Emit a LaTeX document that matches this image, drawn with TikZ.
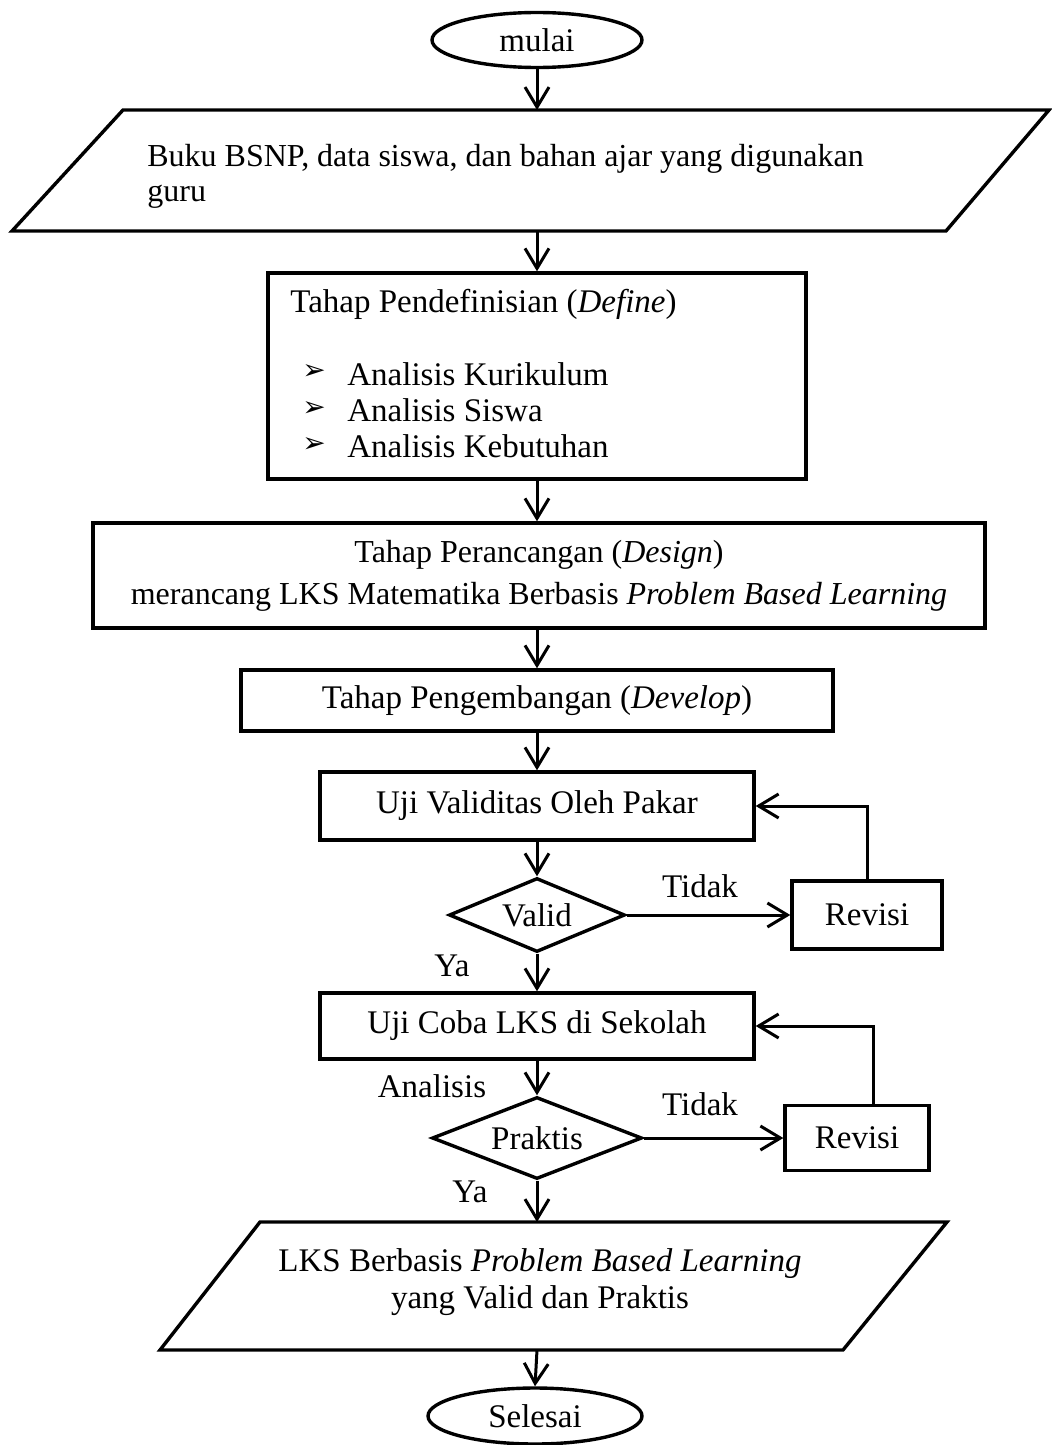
\documentclass[tikz,border=0pt]{standalone}
\usepackage{fontspec}
\setmainfont{Liberation Serif}
\newfontfamily\symfont{DejaVu Sans}
\usetikzlibrary{arrows.meta,shapes.geometric,calc}
\begin{document}
\begin{tikzpicture}[x=0.5pt,y=-0.5pt,
  every node/.style={font=\fontsize{16.5}{19}\selectfont},
  ln/.style={line width=1.7pt, line join=miter},
  box/.style={draw,ln,rectangle,inner sep=0pt,align=center},
  term/.style={draw,ln,ellipse,inner sep=0pt},
  dec/.style={draw,ln,diamond,inner sep=0pt,aspect=2.5},
  arr/.style={line width=1.5pt,-{Straight Barb[length=10pt,width=12pt,line width=1.5pt]}},
  lbl/.style={inner sep=0pt},
  bul/.style={inner sep=0pt,anchor=west,font=\symfont\fontsize{14}{16}\selectfont},
]
\useasboundingbox (0,0) rectangle (1051,1445);

% start
\node[term,minimum width=105pt,minimum height=27.5pt] (start) at (537,40) {mulai};

% input parallelogram
\coordinate (p1a) at (123,110);
\coordinate (p1b) at (1049,110);
\coordinate (p1c) at (946,231);
\coordinate (p1d) at (12,231);
\draw[ln] (p1a)--(p1b)--(p1c)--(p1d)--cycle;
\coordinate (p1top) at (537,110);
\coordinate (p1bot) at (537,231);
\node[lbl,anchor=west,align=left,font=\fontsize{16}{17.5}\selectfont] (in1) at (147,176)
  {Buku BSNP, data siswa, dan bahan ajar yang digunakan\\guru};

% define
\node[box,minimum width=269pt,minimum height=103pt] (def) at (537,376) {};
\node[lbl,anchor=west] (defT) at (290,304) {Tahap Pendefinisian (\textit{Define})};
\node[bul] (b1) at (302,372) {➢};
\node[bul] (b2) at (302,409) {➢};
\node[bul] (b3) at (302,445) {➢};
\node[lbl,anchor=west] (t1) at (347,374) {Analisis Kurikulum};
\node[lbl,anchor=west] (t2) at (347,410) {Analisis Siswa};
\node[lbl,anchor=west] (t3) at (347,446) {Analisis Kebutuhan};

% design
\node[box,minimum width=446pt,minimum height=52.5pt,font=\fontsize{16}{21}\selectfont] (des) at (539,575.5)
  {Tahap Perancangan (\textit{Design})\\merancang LKS Matematika Berbasis \textit{Problem Based Learning}};

% develop
\node[box,minimum width=296pt,minimum height=30.5pt] (dev) at (537,700.5) {Tahap Pengembangan (\textit{Develop})};

% validity
\node[box,minimum width=217pt,minimum height=34pt] (uv) at (537,806) {Uji Validitas Oleh Pakar};
\node[dec,minimum width=88pt,minimum height=37pt] (valid) at (537,915) {Valid};
\node[box,minimum width=75pt,minimum height=34pt] (rev1) at (867,915) {Revisi};

% trial
\node[box,minimum width=217pt,minimum height=33pt] (uc) at (537,1026) {Uji Coba LKS di Sekolah};
\node[dec,minimum width=105pt,minimum height=41pt] (prak) at (537,1138) {Praktis};
\node[box,minimum width=72pt,minimum height=32.5pt] (rev2) at (857,1138) {Revisi};

% output parallelogram
\coordinate (q1a) at (260,1222);
\coordinate (q1b) at (947,1222);
\coordinate (q1c) at (843,1350);
\coordinate (q1d) at (160,1350);
\draw[ln] (q1a)--(q1b)--(q1c)--(q1d)--cycle;
\coordinate (q1top) at (537,1222);
\coordinate (q1bot) at (537,1350);
\node[lbl,align=center,font=\fontsize{16.5}{18.5}\selectfont] (out) at (540,1282)
  {LKS Berbasis \textit{Problem Based Learning}\\yang Valid dan Praktis};

% end
\node[term,minimum width=107pt,minimum height=28pt] (end) at (535,1416) {Selesai};

% labels
\node[lbl] (tdk1) at (700,886) {Tidak};
\node[lbl] (ya1) at (452,966) {Ya};
\node[lbl] (ana) at (432,1086) {Analisis};
\node[lbl] (tdk2) at (700,1104) {Tidak};
\node[lbl] (ya2) at (470,1192) {Ya};

% connectors
\draw[arr] (start.south) -- (p1top);
\draw[arr] (p1bot) -- (def.north);
\draw[arr] (def.south) -- (des.north -| def.south);
\draw[arr] (des.south -| def.south) -- (dev.north);
\draw[arr] (dev.south) -- (uv.north);
\draw[arr] (uv.south) -- (valid.north);
\draw[arr] (valid.east) -- (rev1.west);
\draw[arr] (rev1.north) |- (uv.east);
\draw[arr] (valid.south) -- (uc.north);
\draw[arr] (uc.south) -- (prak.north);
\draw[arr] (prak.east) -- (rev2.west);
\coordinate (r2up) at (873,1121);
\draw[arr] (rev2.north -| r2up) |- (uc.east);
\draw[arr] (prak.south) -- (q1top);
\draw[arr] (q1bot) -- (end.north);
\end{tikzpicture}
\end{document}
